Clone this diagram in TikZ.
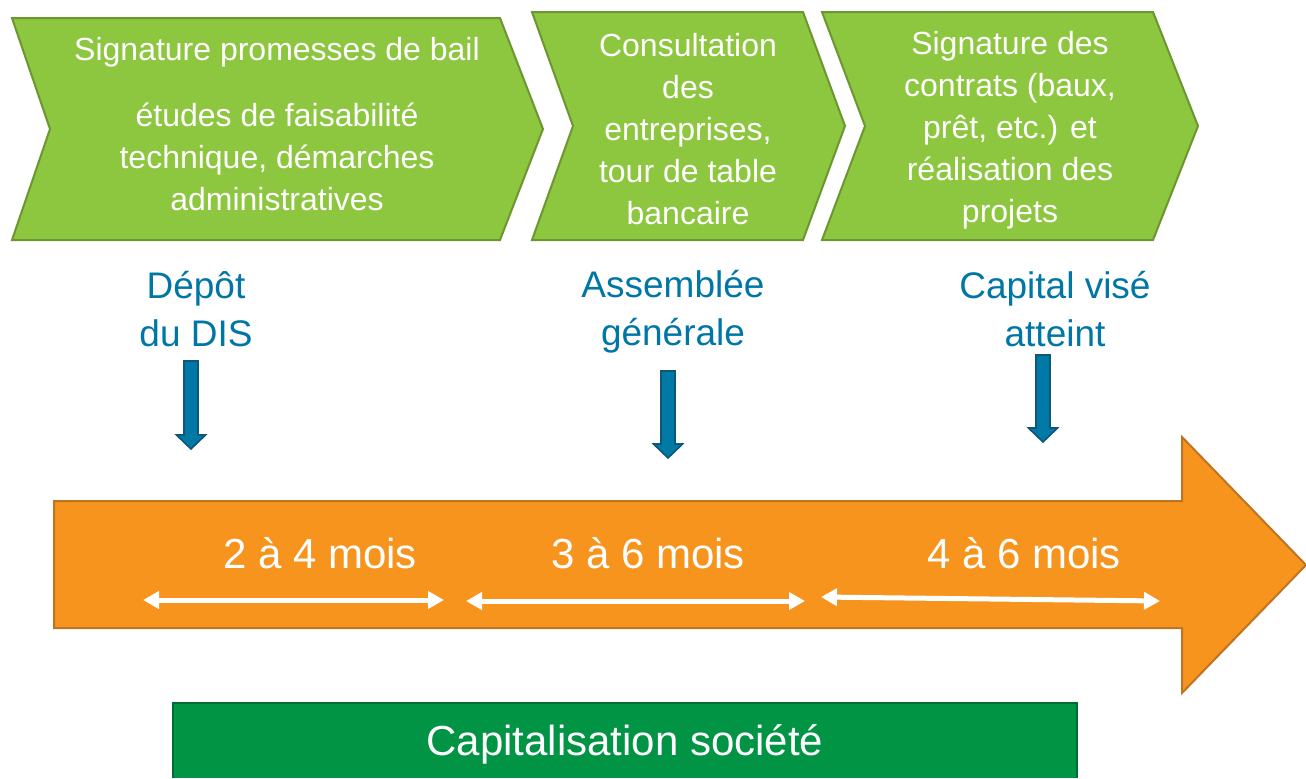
\documentclass[tikz,border=0pt]{standalone}
\usepackage{fontspec}
\setmainfont{Liberation Sans}
\usepackage{tikz}
\usetikzlibrary{positioning}
\usetikzlibrary{arrows.meta}
\definecolor{chevgreen}{RGB}{141,198,63}
\definecolor{chevdark}{RGB}{108,150,48}
\definecolor{mileblue}{RGB}{0,118,166}
\definecolor{arrowblue}{RGB}{0,121,166}
\definecolor{arrowdark}{RGB}{14,88,118}
\definecolor{lineorange}{RGB}{247,148,29}
\definecolor{orangedark}{RGB}{192,116,34}
\definecolor{boxgreen}{RGB}{0,148,68}
\definecolor{boxdark}{RGB}{0,108,50}

\begin{document}
\begin{tikzpicture}[x=0.5pt,y=-0.5pt]
\useasboundingbox (0,0) rectangle (1306,778);

\tikzset{chevron/.style={fill=chevgreen,draw=chevdark,line width=1pt},
         phase/.style={text=white,align=center,font=\fontsize{16}{21}\selectfont},
         mile/.style={text=mileblue,align=center,font=\fontsize{18.5}{24}\selectfont},
         downarrow/.style={fill=arrowblue,draw=arrowdark,line width=0.8pt},
         timeline/.style={fill=lineorange,draw=orangedark,line width=1pt},
         months/.style={text=white,font=\fontsize{21}{25}\selectfont},
         span/.style={draw=white,line width=2.5pt,
                      {Triangle[length=8pt,width=8.5pt]}-{Triangle[length=8pt,width=8.5pt]}}}

% phases
\draw[chevron] (12,18) -- (500,18) -- (543,129) -- (500,240) -- (12,240) -- (50,129) -- cycle;
\draw[chevron] (532,12) -- (803,12) -- (845,126) -- (803,240) -- (532,240) -- (573,126) -- cycle;
\draw[chevron] (822,12) -- (1153,12) -- (1198,126) -- (1153,240) -- (822,240) -- (865,126) -- cycle;

\node[phase] (p1a) at (277,52) {Signature promesses de bail};
\node[phase] (p1b) at (277,157) {études de faisabilité\\technique, démarches\\administratives};
\node[phase] (p2) at (688,129) {Consultation\\des\\entreprises,\\tour de table\\bancaire};
\node[phase] (p3) at (1010,130) {Signature des\\contrats (baux,\\prêt, etc.) et\\réalisation des\\projets};

% milestones
\node[mile] (m1) at (196,309) {Dépôt\\du DIS};
\node[mile] (m2) at (673,312) {Assemblée\\générale};
\node[mile] (m3) at (1055,309) {Capital visé\\atteint};

\foreach \cx/\ya/\yb in {191/361/449, 668/371/458, 1043/355/442}
    \draw[downarrow] (\cx-7,\ya) -- (\cx+7,\ya) -- (\cx+7,\yb-14) -- (\cx+14.5,\yb-14)
        -- (\cx,\yb) -- (\cx-14.5,\yb-14) -- (\cx-7,\yb-14) -- cycle;

% timeline
\draw[timeline] (54,501) -- (1182,501) -- (1182,437) -- (1306,565) -- (1182,693)
    -- (1182,628) -- (54,628) -- cycle;

\node[months] (d1) at (320,553) {2 à 4 mois};
\node[months] (d2) at (648,553) {3 à 6 mois};
\node[months] (d3) at (1024,553) {4 à 6 mois};

\coordinate (a1l) at (143,600);
\coordinate (a1r) at (444,600);
\coordinate (a2l) at (466,601);
\coordinate (a2r) at (805,601);
\coordinate (a3l) at (821,597);
\coordinate (a3r) at (1160,601);
\draw[span] (a1l) -- (a1r);
\draw[span] (a2l) -- (a2r);
\draw[span] (a3l) -- (a3r);

% capital
\fill[boxgreen] (173,703) rectangle (1077,778);
\draw[boxdark,line width=1pt] (173,778) -- (173,703) -- (1077,703) -- (1077,778);
\node[text=white,font=\fontsize{21}{25}\selectfont] (cap) at (625,744) {Capitalisation société};
\end{tikzpicture}
\end{document}
